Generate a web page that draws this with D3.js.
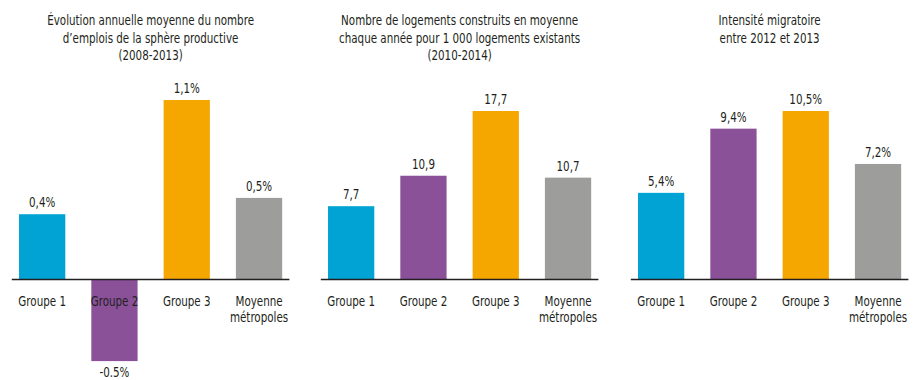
<!DOCTYPE html>
<html>
<head>
<meta charset="utf-8">
<script src="https://cdn.jsdelivr.net/npm/d3@7"></script>
<style>
  html, body { margin: 0; padding: 0; background: #fff; }
  svg text { font-family: "Liberation Sans Narrow", "DejaVu Sans Condensed", "Roboto", sans-serif; fill: #231f20; font-size: 14px; }
</style>
</head>
<body>
<svg id="chart" width="916" height="380"></svg>
<script>
// Categories shared by the three panels
const categories = ["Groupe 1", "Groupe 2", "Groupe 3", "Moyenne métropoles"];
const categoryLines = [["Groupe 1"], ["Groupe 2"], ["Groupe 3"], ["Moyenne", "métropoles"]];
const barColors = ["#00a3d3", "#8a5199", "#f5a700", "#9d9d9c"];

// Panel 1 – annual change in productive-sector jobs (%)
const emploiTitle = ["Évolution annuelle moyenne du nombre", "d’emplois de la sphère productive", "(2008-2013)"];
const emploiValues = [0.4, -0.5, 1.1, 0.5];
const emploiLabels = ["0,4%", "-0.5%", "1,1%", "0,5%"];

// Panel 2 – dwellings built per 1000 existing
const logementsTitle = ["Nombre de logements construits en moyenne", "chaque année pour 1 000 logements existants", "(2010-2014)"];
const logementsValues = [7.7, 10.9, 17.7, 10.7];
const logementsLabels = ["7,7", "10,9", "17,7", "10,7"];

// Panel 3 – migration intensity (%)
const migrationTitle = ["Intensité migratoire", "entre 2012 et 2013"];
const migrationValues = [5.4, 9.4, 10.5, 7.2];
const migrationLabels = ["5,4%", "9,4%", "10,5%", "7,2%"];

const panels = [
  { left: 0,   title: emploiTitle,    values: emploiValues,    labels: emploiLabels,    top: 100 },
  { left: 309, title: logementsTitle, values: logementsValues, labels: logementsLabels, top: 111 },
  { left: 619, title: migrationTitle, values: migrationValues, labels: migrationLabels, top: 111 }
];

const baseline = 279.5;
const narrow = 0.82; // horizontal squeeze to get a condensed face
const svg = d3.select("#chart");

// Place a centred, horizontally condensed text at (x, y)
function label(sel, x, y, str) {
  return sel.append("text")
    .attr("text-anchor", "middle")
    .attr("transform", `translate(${x},${y}) scale(${narrow},1)`)
    .text(str);
}

panels.forEach(p => {
  const g = svg.append("g").attr("transform", `translate(${p.left},0)`);

  const x = d3.scaleBand()
    .domain(categories)
    .range([11.8, 289.4])
    .paddingInner(0.36)
    .paddingOuter(0.1);

  const y = d3.scaleLinear()
    .domain([0, d3.max(p.values)])
    .range([baseline, p.top]);

  const cx = (x.range()[0] + x.range()[1]) / 2;

  // Title
  p.title.forEach((line, i) => label(g, cx, 25 + i * 17.5, line));

  const data = categories.map((c, i) => ({ c, v: p.values[i], label: p.labels[i], lines: categoryLines[i], color: barColors[i] }));

  // Bars
  g.selectAll("rect.bar").data(data).join("rect")
    .attr("class", "bar")
    .attr("x", d => x(d.c))
    .attr("width", x.bandwidth())
    .attr("y", d => Math.min(y(d.v), y(0)))
    .attr("height", d => Math.abs(y(d.v) - y(0)))
    .attr("fill", d => d.color);

  // Baseline
  g.append("line")
    .attr("x1", x.range()[0]).attr("x2", x.range()[1])
    .attr("y1", y(0)).attr("y2", y(0))
    .attr("stroke", "#231f20").attr("stroke-width", 1.3);

  data.forEach(d => {
    const bx = x(d.c) + x.bandwidth() / 2;
    // Category labels
    d.lines.forEach((line, i) => label(g, bx, 306 + i * 16, line));
    // Value labels
    label(g, bx, d.v >= 0 ? y(d.v) - 7 : y(d.v) + 16, d.label);
  });
});
</script>
</body>
</html>
